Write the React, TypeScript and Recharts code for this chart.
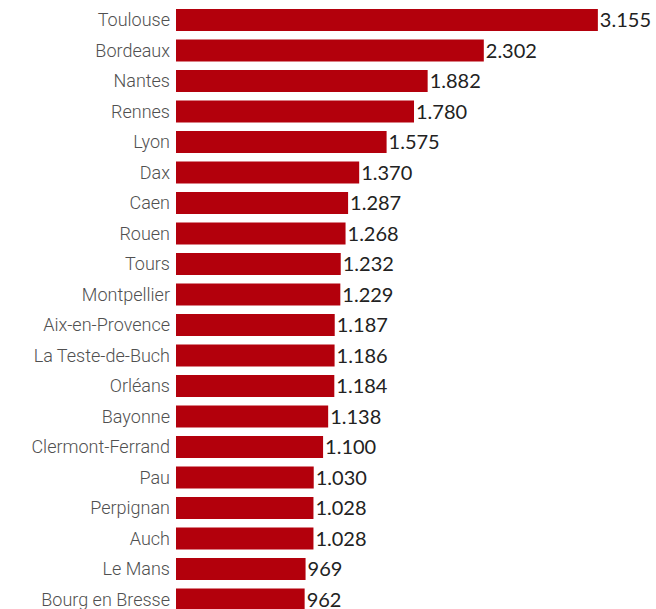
import React from 'react';
import { BarChart, Bar, XAxis, YAxis, LabelList } from 'recharts';

// Cities, top to bottom
const CITIES = [
  'Toulouse', 'Bordeaux', 'Nantes', 'Rennes', 'Lyon', 'Dax', 'Caen', 'Rouen', 'Tours',
  'Montpellier', 'Aix-en-Provence', 'La Teste-de-Buch', 'Orléans', 'Bayonne',
  'Clermont-Ferrand', 'Pau', 'Perpignan', 'Auch', 'Le Mans', 'Bourg en Bresse',
];

const VALUES = [
  3155, 2302, 1882, 1780, 1575, 1370, 1287, 1268, 1232,
  1229, 1187, 1186, 1184, 1138,
  1100, 1030, 1028, 1028, 969, 962,
];

const data = CITIES.map((city, i) => ({ city, value: VALUES[i] }));

// 3155 -> "3.155"
const fmt = (v: number) => String(v).replace(/\B(?=(\d{3})+(?!\d))/g, '.');

const CityTick = (props: any) => {
  const { x, y, payload } = props;
  return (
    <text
      x={x + 2}
      y={y}
      dy={6}
      textAnchor="end"
      fontFamily="Roboto, sans-serif"
      fontSize={18}
      fontWeight={300}
      fill="#505050"
    >
      {payload.value}
    </text>
  );
};

export default function App() {
  return (
    <div style={{ position: 'absolute', top: 0, left: 0, width: 656, height: 609, overflow: 'hidden', background: '#fff' }}>
      <BarChart
        width={656}
        height={615}
        data={data}
        layout="vertical"
        margin={{ top: 5, right: 12, bottom: 0, left: 0 }}
        barSize={22}
      >
        <XAxis type="number" domain={[0, 3500]} hide />
        <YAxis
          type="category"
          dataKey="city"
          width={176}
          axisLine={false}
          tickLine={false}
          tick={<CityTick />}
          interval={0}
        />
        <Bar dataKey="value" fill="#b3000c" isAnimationActive={false}>
          <LabelList
            dataKey="value"
            position="right"
            offset={2}
            formatter={(v: any) => fmt(Number(v))}
            style={{ fontFamily: 'Lato, sans-serif', fontSize: 20, fill: '#222' }}
          />
        </Bar>
      </BarChart>
    </div>
  );
}
